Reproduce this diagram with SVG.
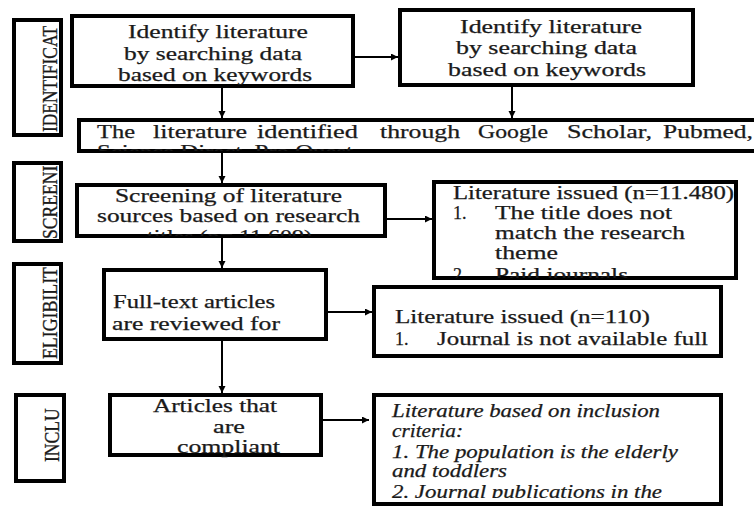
<svg xmlns="http://www.w3.org/2000/svg" width="754" height="507" viewBox="0 0 754 507">
<style>
.box{fill:#fff;stroke:#000;stroke-width:4}
.t{font-family:"Liberation Serif","Times New Roman",serif;font-size:18px;fill:#1a1a1a;stroke:#1a1a1a;stroke-width:0.25}
.i{font-style:italic}
.side{font-family:"Liberation Serif","Times New Roman",serif;font-size:22px;fill:#1a1a1a;stroke:#1a1a1a;stroke-width:0.35}
.c{stroke:#000;stroke-width:2;fill:none;marker-end:url(#ah)}
</style>
<defs>
<marker id="ah" markerUnits="userSpaceOnUse" markerWidth="8" markerHeight="8" refX="7" refY="3.5" orient="auto">
<path d="M0,0 L7,3.5 L0,7 z" fill="#000"/>
</marker>
<clipPath id="clipC"><rect x="79" y="120" width="680" height="31"/></clipPath>
<clipPath id="clipD"><rect x="77" y="185" width="308" height="51"/></clipPath>
<clipPath id="clipE"><rect x="434" y="182" width="302" height="96"/></clipPath>
<clipPath id="clipI"><rect x="374" y="395" width="347" height="103"/></clipPath>
</defs>
<rect width="754" height="507" fill="#fff"/>

<g id="label-identification">
<rect class="box" x="14" y="20" width="47" height="115"/>
<text class="side" transform="translate(57,132) rotate(-90) scale(0.79,1)">IDENTIFICAT</text>
</g>
<g id="label-screening">
<rect class="box" x="14" y="163" width="47" height="78"/>
<text class="side" transform="translate(57,239) rotate(-90) scale(0.8,1)">SCREENI</text>
</g>
<g id="label-eligibility">
<rect class="box" x="14" y="264" width="47" height="99"/>
<text class="side" transform="translate(57,359) rotate(-90) scale(0.81,1)">ELIGIBILIT</text>
</g>
<g id="label-inclusion">
<rect class="box" x="16" y="395" width="48" height="86"/>
<text class="side" transform="translate(59,462) rotate(-90) scale(0.8,1)">INCLU</text>
</g>

<g id="box-identify-1">
<rect class="box" x="72" y="16" width="281" height="70"/>
<text class="t" x="128" y="38" textLength="180" lengthAdjust="spacingAndGlyphs">Identify literature</text>
<text class="t" x="124" y="60" textLength="178" lengthAdjust="spacingAndGlyphs">by searching data</text>
<text class="t" x="118" y="81" textLength="194" lengthAdjust="spacingAndGlyphs">based on keywords</text>
</g>
<g id="box-identify-2">
<rect class="box" x="400" y="10" width="293" height="75"/>
<text class="t" x="460" y="33" textLength="182" lengthAdjust="spacingAndGlyphs">Identify literature</text>
<text class="t" x="456" y="54" textLength="181" lengthAdjust="spacingAndGlyphs">by searching data</text>
<text class="t" x="448" y="76" textLength="198" lengthAdjust="spacingAndGlyphs">based on keywords</text>
</g>
<g id="box-identified">
<rect class="box" x="79" y="120" width="700" height="31"/>
<g clip-path="url(#clipC)">
<text class="t" x="97" y="138" textLength="38" lengthAdjust="spacingAndGlyphs">The</text>
<text class="t" x="153" y="138" textLength="94" lengthAdjust="spacingAndGlyphs">literature</text>
<text class="t" x="257" y="138" textLength="101" lengthAdjust="spacingAndGlyphs">identified</text>
<text class="t" x="380" y="138" textLength="80" lengthAdjust="spacingAndGlyphs">through</text>
<text class="t" x="478" y="138" textLength="70" lengthAdjust="spacingAndGlyphs">Google</text>
<text class="t" x="567" y="138" textLength="85" lengthAdjust="spacingAndGlyphs">Scholar,</text>
<text class="t" x="663" y="138" textLength="90" lengthAdjust="spacingAndGlyphs">Pubmed,</text>
<text class="t" x="97" y="158" textLength="256" lengthAdjust="spacingAndGlyphs">Science Direct, Pro Quest</text>
</g>
</g>
<g id="box-screening">
<rect class="box" x="77" y="185" width="308" height="51"/>
<g clip-path="url(#clipD)">
<text class="t" x="115" y="202" textLength="227" lengthAdjust="spacingAndGlyphs">Screening of literature</text>
<text class="t" x="97" y="222" textLength="263" lengthAdjust="spacingAndGlyphs">sources based on research</text>
<text class="t" x="147" y="243" textLength="165" lengthAdjust="spacingAndGlyphs">titles (n= 11.609)</text>
</g>
</g>
<g id="box-excluded-1">
<rect class="box" x="434" y="182" width="302" height="96"/>
<g clip-path="url(#clipE)">
<text class="t" x="453" y="199" textLength="281" lengthAdjust="spacingAndGlyphs">Literature issued (n=11.480)</text>
<text class="t" x="453" y="219">1.</text>
<text class="t" x="495" y="219" textLength="177" lengthAdjust="spacingAndGlyphs">The title does not</text>
<text class="t" x="495" y="239" textLength="190" lengthAdjust="spacingAndGlyphs">match the research</text>
<text class="t" x="495" y="259" textLength="63" lengthAdjust="spacingAndGlyphs">theme</text>
<text class="t" x="453" y="281">2.</text>
<text class="t" x="495" y="281" textLength="133" lengthAdjust="spacingAndGlyphs">Paid journals</text>
</g>
</g>
<g id="box-fulltext">
<rect class="box" x="104" y="270" width="222" height="69"/>
<text class="t" x="113" y="308" textLength="162" lengthAdjust="spacingAndGlyphs">Full-text articles</text>
<text class="t" x="112" y="330" textLength="168" lengthAdjust="spacingAndGlyphs">are reviewed for</text>
</g>
<g id="box-excluded-2">
<rect class="box" x="374" y="287" width="347" height="69"/>
<text class="t" x="395" y="323" textLength="255" lengthAdjust="spacingAndGlyphs">Literature issued (n=110)</text>
<text class="t" x="395" y="345">1.</text>
<text class="t" x="437" y="345" textLength="271" lengthAdjust="spacingAndGlyphs">Journal is not available full</text>
</g>
<g id="box-compliant">
<rect class="box" x="110" y="395" width="211" height="60"/>
<text class="t" x="153" y="412" textLength="124" lengthAdjust="spacingAndGlyphs">Articles that</text>
<text class="t" x="213" y="433" textLength="32" lengthAdjust="spacingAndGlyphs">are</text>
<text class="t" x="177" y="453" textLength="103" lengthAdjust="spacingAndGlyphs">compliant</text>
</g>
<g id="box-inclusion">
<rect class="box" x="374" y="395" width="347" height="109"/>
<g clip-path="url(#clipI)">
<text class="t i" x="392" y="417" textLength="268" lengthAdjust="spacingAndGlyphs">Literature based on inclusion</text>
<text class="t i" x="392" y="437" textLength="71" lengthAdjust="spacingAndGlyphs">criteria:</text>
<text class="t i" x="392" y="458" textLength="286" lengthAdjust="spacingAndGlyphs">1. The population is the elderly</text>
<text class="t i" x="392" y="477" textLength="115" lengthAdjust="spacingAndGlyphs">and toddlers</text>
<text class="t i" x="392" y="498" textLength="270" lengthAdjust="spacingAndGlyphs">2. Journal publications in the</text>
</g>
</g>

<g id="connectors">
<line class="c" x1="355" y1="57" x2="398" y2="57"/>
<line class="c" x1="222" y1="88" x2="222" y2="118"/>
<line class="c" x1="512" y1="87" x2="512" y2="118"/>
<line class="c" x1="222" y1="153" x2="222" y2="183"/>
<line class="c" x1="387" y1="219" x2="432" y2="219"/>
<line class="c" x1="222" y1="238" x2="222" y2="268"/>
<line class="c" x1="328" y1="312" x2="372" y2="312"/>
<line class="c" x1="222" y1="341" x2="222" y2="393"/>
<line class="c" x1="323" y1="420" x2="369" y2="420"/>
</g>
</svg>
